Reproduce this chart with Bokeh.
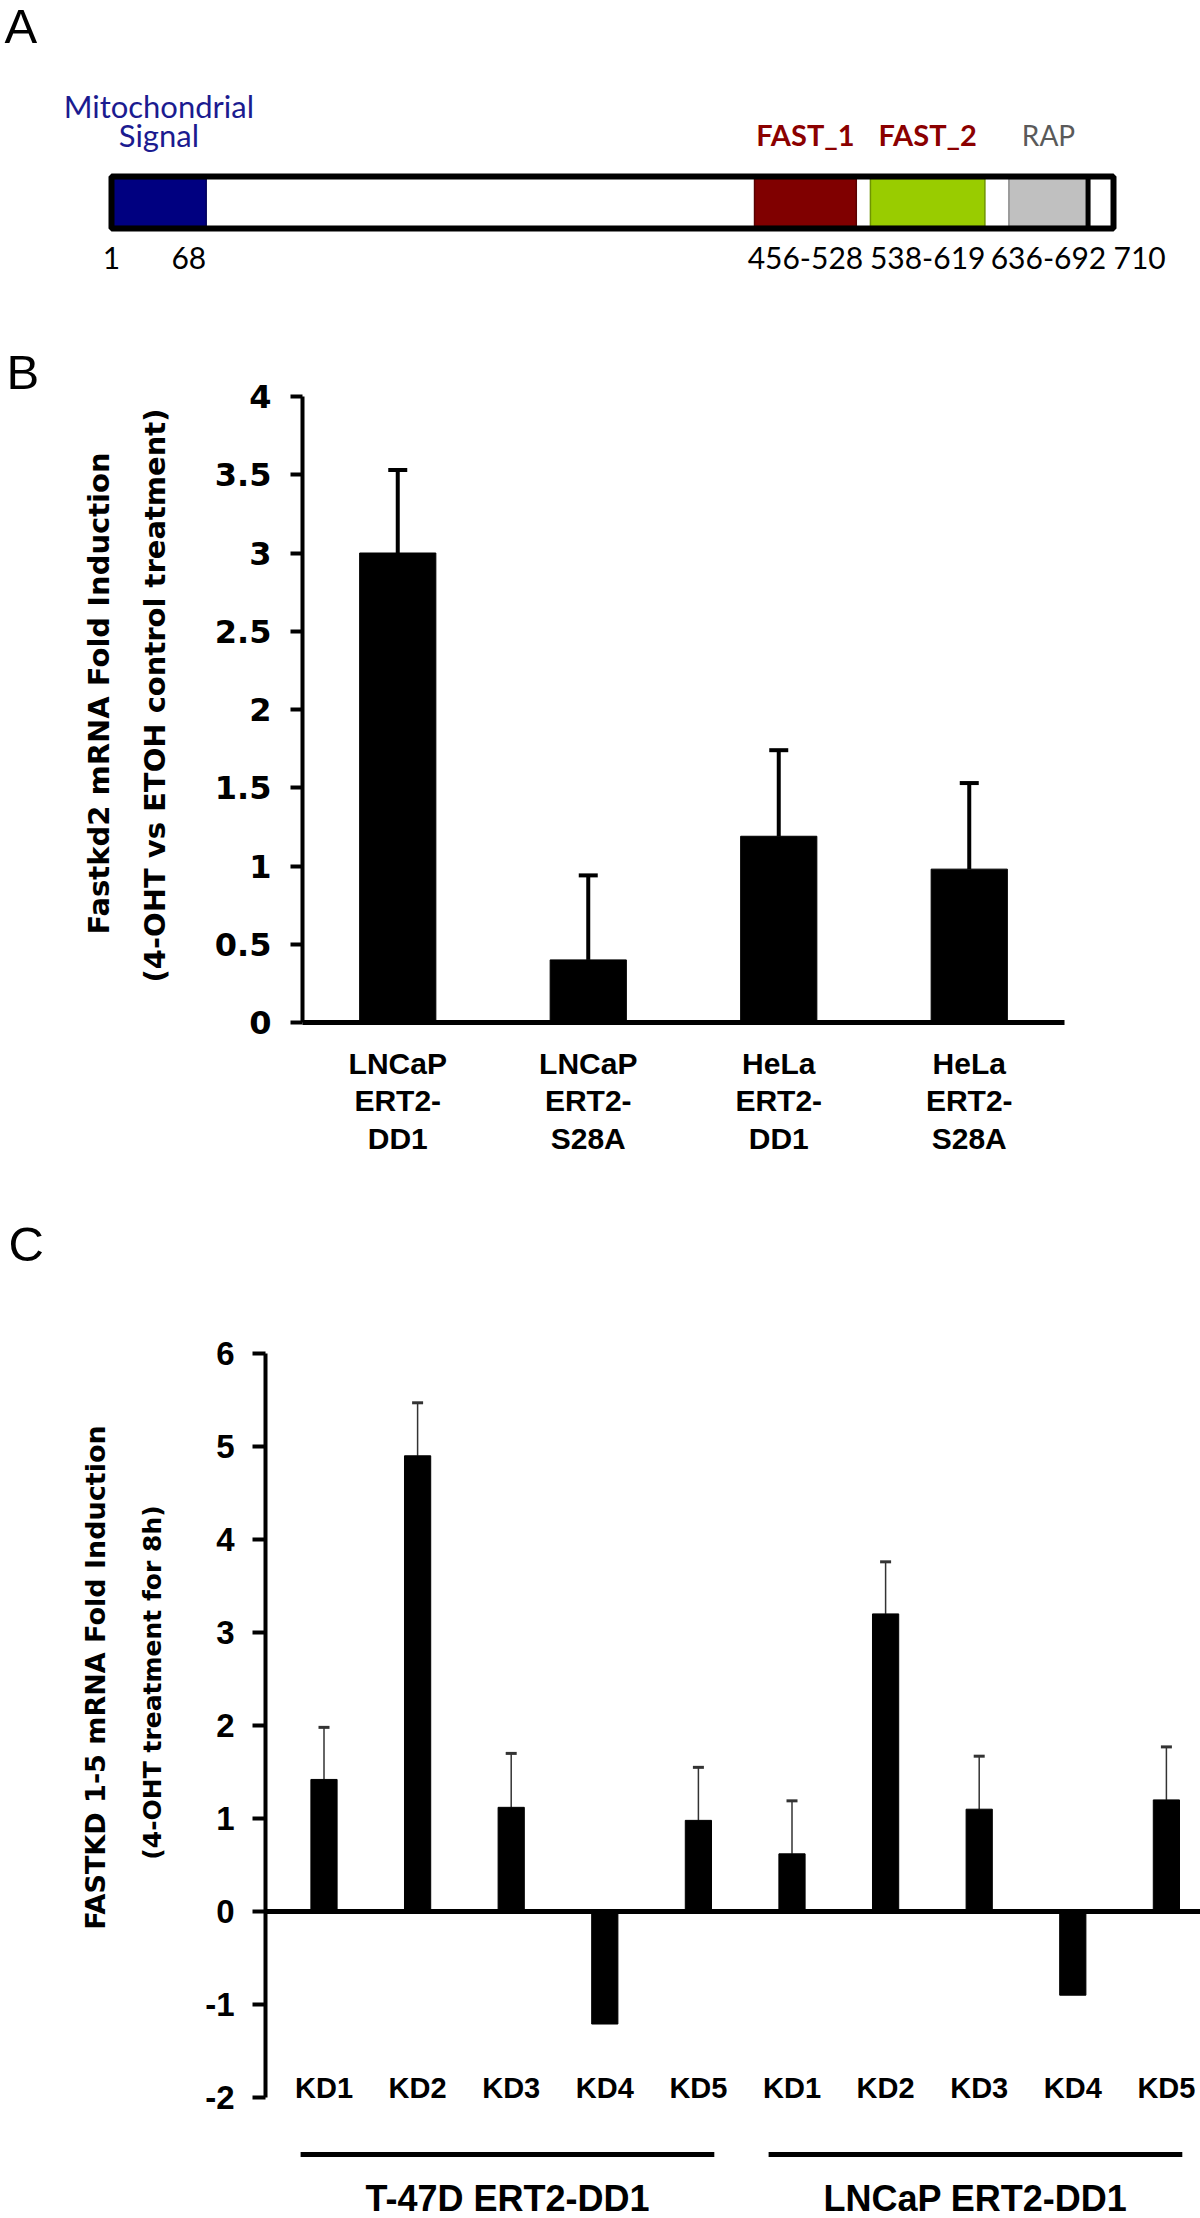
import math
from bokeh.plotting import figure
from bokeh.models import ColumnDataSource, Range1d, FixedTicker, Whisker, TeeHead
from bokeh.layouts import column
from bokeh.embed import file_html
from bokeh.resources import INLINE
from bokeh.core.properties import value

# ------------------------------------------------------------------ data
# Panel A : FASTKD2 protein domains (amino-acid positions)
PROTEIN_LENGTH = 710
DOMAIN_NAMES = ["Mitochondrial\nSignal", "FAST_1", "FAST_2", "RAP"]
DOMAIN_START = [1, 456, 538, 636]
DOMAIN_END = [68, 528, 619, 692]

# Panel B
B_CATEGORIES = ["LNCaP ERT2-DD1", "LNCaP ERT2-S28A", "HeLa ERT2-DD1", "HeLa ERT2-S28A"]
B_VALUES = [3.00, 0.40, 1.19, 0.98]
B_ERRORS = [0.53, 0.54, 0.55, 0.55]
B_YTICKS = [0, 0.5, 1, 1.5, 2, 2.5, 3, 3.5, 4]
B_YTICK_LABELS = ["0", "0.5", "1", "1.5", "2", "2.5", "3", "3.5", "4"]
B_YTITLE = ["Fastkd2 mRNA Fold Induction", "(4-OHT vs ETOH control treatment)"]

# Panel C
C_GROUPS = ["T-47D ERT2-DD1", "LNCaP ERT2-DD1"]
C_GENES = ["KD1", "KD2", "KD3", "KD4", "KD5"]
C_T47D = [1.42, 4.90, 1.12, -1.21, 0.98]
C_T47D_ERR = [0.56, 0.57, 0.58, None, 0.57]
C_LNCAP = [0.62, 3.20, 1.10, -0.90, 1.20]
C_LNCAP_ERR = [0.57, 0.56, 0.57, None, 0.57]
C_YTICKS = [-2, -1, 0, 1, 2, 3, 4, 5, 6]
C_YTICK_LABELS = ["-2", "-1", "0", "1", "2", "3", "4", "5", "6"]
C_YTITLE = ["FASTKD 1-5 mRNA Fold Induction", "(4-OHT treatment for 8h)"]

# ------------------------------------------------------------------ styles / layout (page pixels)
PAGE_W = 1200
A_TOP, A_H = 0, 300
B_TOP, B_H = A_TOP + A_H, 880
C_TOP, C_H = B_TOP + B_H, 1038

LETTER_FONT = "Liberation Sans"
LETTER_SIZE = "49px"

DOMAIN_FILL = ["#000080", "#800000", "#99cc00", "#c0c0c0"]
DOMAIN_LINE = ["#00005a", "#5a0000", "#6f9400", "#8a8a8a"]
DOMAIN_LABEL_COLOR = ["#1b1b90", "#8b0000", "#8b0000", "#5a5a5a"]
DOMAIN_LABEL_STYLE = ["normal", "bold", "bold", "normal"]
DOMAIN_LABEL_SIZE = ["31px", "29px", "29px", "28px"]
END_MARK = [False, False, False, True]


def base_fig(x_range, y_range, height):
    p = figure(width=PAGE_W, height=height, x_range=x_range, y_range=y_range,
               toolbar_location=None, output_backend="svg", min_border=0)
    p.min_border_left = p.min_border_right = p.min_border_top = p.min_border_bottom = 0
    p.title.visible = False
    p.outline_line_color = None
    p.grid.visible = False
    p.background_fill_color = "white"
    p.border_fill_color = "white"
    return p


def letter(p, x, y, txt):
    p.text(x=[x], y=[y], text=[txt], text_font=value(LETTER_FONT), text_font_size=LETTER_SIZE,
           text_align="left", text_baseline="middle", text_color="black")


# ================================================================== Panel A
A_AA1_PX, A_AAN_PX = 111, 1113          # page x of residue 1 and of the last residue
aa_px = (A_AAN_PX - A_AA1_PX) / (PROTEIN_LENGTH - 1)


def ax(px):
    return 1 + (px - A_AA1_PX) / aa_px


pa = base_fig(Range1d(ax(0), ax(PAGE_W)), Range1d(A_TOP + A_H, A_TOP), A_H)
pa.xaxis.visible = False
pa.yaxis.visible = False

TRACK_T, TRACK_B = 176, 228
DOM_T, DOM_B = 178, 226
pa.quad(left=[1], right=[PROTEIN_LENGTH], top=[TRACK_T], bottom=[TRACK_B],
        fill_color="white", line_color=None)
dom_src = ColumnDataSource(dict(left=DOMAIN_START, right=DOMAIN_END,
                                fill=DOMAIN_FILL, line=DOMAIN_LINE))
pa.quad(left="left", right="right", top=DOM_T, bottom=DOM_B, fill_color="fill",
        line_color="line", line_width=1.5, source=dom_src)
mark_x = [e for e, m in zip(DOMAIN_END, END_MARK) if m]
pa.segment(x0=mark_x, y0=[DOM_T] * len(mark_x), x1=mark_x, y1=[DOM_B] * len(mark_x),
           line_color="black", line_width=5)
pa.quad(left=[1], right=[PROTEIN_LENGTH], top=[TRACK_T], bottom=[TRACK_B],
        fill_color=None, line_color="black", line_width=6)

LABEL_MID_PX, LABEL_STEP_PX = 134, 29      # centre of the last label line, line step
top = dict(x=[], y=[], text=[], color=[], fstyle=[], fsize=[])
for i, name in enumerate(DOMAIN_NAMES):
    lines = name.split("\n")
    mid = 0.5 * (DOMAIN_START[i] + DOMAIN_END[i])
    for j, line in enumerate(lines):
        top["x"].append(mid)
        top["y"].append(LABEL_MID_PX - (len(lines) - 1 - j) * LABEL_STEP_PX)
        top["text"].append(line)
        top["color"].append(DOMAIN_LABEL_COLOR[i])
        top["fstyle"].append(DOMAIN_LABEL_STYLE[i])
        top["fsize"].append(DOMAIN_LABEL_SIZE[i])
pa.text(x="x", y="y", text="text", text_color="color", text_font_style="fstyle",
        text_font_size="fsize", text_font=value("Lato"), text_align="center",
        text_baseline="middle", source=ColumnDataSource(top))

POS_MID_PX = 257
pos = dict(x=[], text=[], align=[])
for s, e in zip(DOMAIN_START, DOMAIN_END):
    if s == 1:
        pos["x"] += [s, e]
        pos["text"] += [str(s), str(e)]
        pos["align"] += ["center", "right"]
    else:
        pos["x"].append(0.5 * (s + e))
        pos["text"].append(f"{s}-{e}")
        pos["align"].append("center")
pos["x"].append(PROTEIN_LENGTH)
pos["text"].append(str(PROTEIN_LENGTH))
pos["align"].append("left")
pa.text(x="x", y=POS_MID_PX, text="text", text_align="align", text_baseline="middle",
        text_font=value("Lato"), text_font_size="30px", text_color="black",
        source=ColumnDataSource(pos))

letter(pa, ax(4), 25, "A")

# ================================================================== Panel B
nb = len(B_CATEGORIES)
B_AXIS_X, B_AXIS_END_X = 302, 1064        # page x of the value axis and of the category axis end
B_Y0, B_Y4 = 1022, 396                    # page y of 0 and of the top tick
b_slot = (B_AXIS_END_X - B_AXIS_X) / nb
b_unit = (B_Y0 - B_Y4) / (max(B_YTICKS) - min(B_YTICKS))


def bx(px):
    return -0.5 + (px - B_AXIS_X) / b_slot


def by(py):
    return (B_Y0 - py) / b_unit


pb = base_fig(Range1d(bx(0), bx(PAGE_W)), Range1d(by(B_TOP + B_H), by(B_TOP)), B_H)

b_idx = list(range(nb))
pb.vbar(x=b_idx, top=B_VALUES, bottom=0, width=0.4, fill_color="black", line_color="black")
bsrc = ColumnDataSource(dict(x=b_idx, lo=B_VALUES, hi=[v + e for v, e in zip(B_VALUES, B_ERRORS)]))
pb.add_layout(Whisker(source=bsrc, base="x", lower="lo", upper="hi", line_width=4,
                      line_color="black", lower_head=None,
                      upper_head=TeeHead(size=19, line_width=4, line_color="black")))

yax = pb.yaxis[0]
yax.fixed_location = -0.5
yax.bounds = (min(B_YTICKS), max(B_YTICKS))
yax.ticker = FixedTicker(ticks=B_YTICKS)
yax.major_label_overrides = {t: l for t, l in zip(B_YTICKS, B_YTICK_LABELS)}
yax.axis_line_width = 4
yax.axis_line_color = "black"
yax.major_tick_out = 12
yax.major_tick_in = 0
yax.major_tick_line_width = 4
yax.minor_tick_line_color = None
yax.major_label_text_font = "DejaVu Sans"
yax.major_label_text_font_style = "bold"
yax.major_label_text_font_size = "32px"
yax.major_label_text_color = "black"
yax.major_label_standoff = 19

xax = pb.xaxis[0]
xax.fixed_location = 0
xax.bounds = (-0.5, nb - 0.5)
xax.ticker = FixedTicker(ticks=b_idx)
xax.major_label_overrides = {i: c.replace(" ", "\n").replace("-", "-\n") for i, c in enumerate(B_CATEGORIES)}
xax.axis_line_width = 5
xax.axis_line_color = "black"
xax.major_tick_line_color = None
xax.minor_tick_line_color = None
xax.major_label_text_font = "Liberation Sans"
xax.major_label_text_font_style = "bold"
xax.major_label_text_font_size = "30px"
xax.major_label_text_line_height = 1.15
xax.major_label_text_color = "black"
xax.major_label_standoff = 18

letter(pb, bx(6), by(371), "B")
pb.text(x=[bx(98), bx(154)], y=[by(693), by(695)], text=B_YTITLE, angle=math.pi / 2,
        text_align="center", text_baseline="middle", text_font=value("DejaVu Sans"),
        text_font_style="bold", text_font_size="29px", text_color="black")

# ================================================================== Panel C
C_X0_PX, C_DX = 323.5, 93.6     # page x of first bar centre, px per bar slot
C_Y0_PX, C_DY = 1911, 93.0      # page y of value 0, px per unit
C_AXIS_X = 265                  # page x of the value axis


def cx(px):
    return (px - C_X0_PX) / C_DX


def cy(py):
    return (C_Y0_PX - py) / C_DY


pc = base_fig(Range1d(cx(0), cx(PAGE_W)), Range1d(cy(C_TOP + C_H), cy(C_TOP)), C_H)

ng = len(C_GENES)
c_vals = C_T47D + C_LNCAP
c_errs = C_T47D_ERR + C_LNCAP_ERR
c_idx = list(range(len(c_vals)))
c_names = C_GENES * len(C_GROUPS)

pc.vbar(x=c_idx, top=c_vals, bottom=0, width=0.28, fill_color="black", line_color="black")
keep = [i for i, e in enumerate(c_errs) if e is not None]
csrc = ColumnDataSource(dict(x=[c_idx[i] for i in keep], lo=[c_vals[i] for i in keep],
                             hi=[c_vals[i] + c_errs[i] for i in keep]))
pc.add_layout(Whisker(source=csrc, base="x", lower="lo", upper="hi", line_width=1.5,
                      line_color="#333333", lower_head=None,
                      upper_head=TeeHead(size=11, line_width=3, line_color="#333333")))

yc = pc.yaxis[0]
yc.fixed_location = cx(C_AXIS_X)
yc.bounds = (min(C_YTICKS), max(C_YTICKS))
yc.ticker = FixedTicker(ticks=C_YTICKS)
yc.major_label_overrides = {t: l for t, l in zip(C_YTICKS, C_YTICK_LABELS)}
yc.axis_line_width = 4
yc.axis_line_color = "black"
yc.major_tick_out = 13
yc.major_tick_in = 0
yc.major_tick_line_width = 4
yc.minor_tick_line_color = None
yc.major_label_text_font = "Liberation Sans"
yc.major_label_text_font_style = "bold"
yc.major_label_text_font_size = "33px"
yc.major_label_text_color = "black"
yc.major_label_standoff = 18

xc = pc.xaxis[0]
xc.fixed_location = 0
xc.bounds = (cx(C_AXIS_X), cx(PAGE_W))
xc.ticker = FixedTicker(ticks=[])
xc.axis_line_width = 5
xc.axis_line_color = "black"
xc.major_tick_line_color = None
xc.minor_tick_line_color = None

# gene labels just above the bottom tick of the value axis
KD_MID_PX = 2087
pc.text(x=c_idx, y=[cy(KD_MID_PX)] * len(c_idx), text=c_names, text_align="center",
        text_baseline="middle", text_font=value("Liberation Sans"), text_font_style="bold",
        text_font_size="29px", text_color="black")

# group brackets and names
GROUP_PAD_L, GROUP_PAD_R = 0.25, 0.17
g_x0 = [g * ng - GROUP_PAD_L for g in range(len(C_GROUPS))]
g_x1 = [g * ng + ng - 1 + GROUP_PAD_R for g in range(len(C_GROUPS))]
g_line_y = cy(2154)
pc.segment(x0=g_x0, y0=[g_line_y] * len(g_x0), x1=g_x1, y1=[g_line_y] * len(g_x0),
           line_color="black", line_width=5)
pc.text(x=[0.5 * (a + b) for a, b in zip(g_x0, g_x1)], y=[cy(2198)] * len(C_GROUPS), text=C_GROUPS,
        text_align="center", text_baseline="middle", text_font=value("Liberation Sans"),
        text_font_style="bold", text_font_size="36px", text_color="black")

letter(pc, cx(8), cy(1243), "C")
ctitle = ColumnDataSource(dict(x=[cx(95), cx(152)], y=[cy(1677), cy(1682)], text=C_YTITLE,
                               fsize=["27px", "25px"]))
pc.text(x="x", y="y", text="text", text_font_size="fsize", angle=math.pi / 2,
        text_align="center", text_baseline="middle", text_font=value("DejaVu Sans"),
        text_font_style="bold", text_color="black", source=ctitle)

layout = column(pa, pb, pc, spacing=0)
open("out.html", "w").write(file_html(layout, INLINE))
